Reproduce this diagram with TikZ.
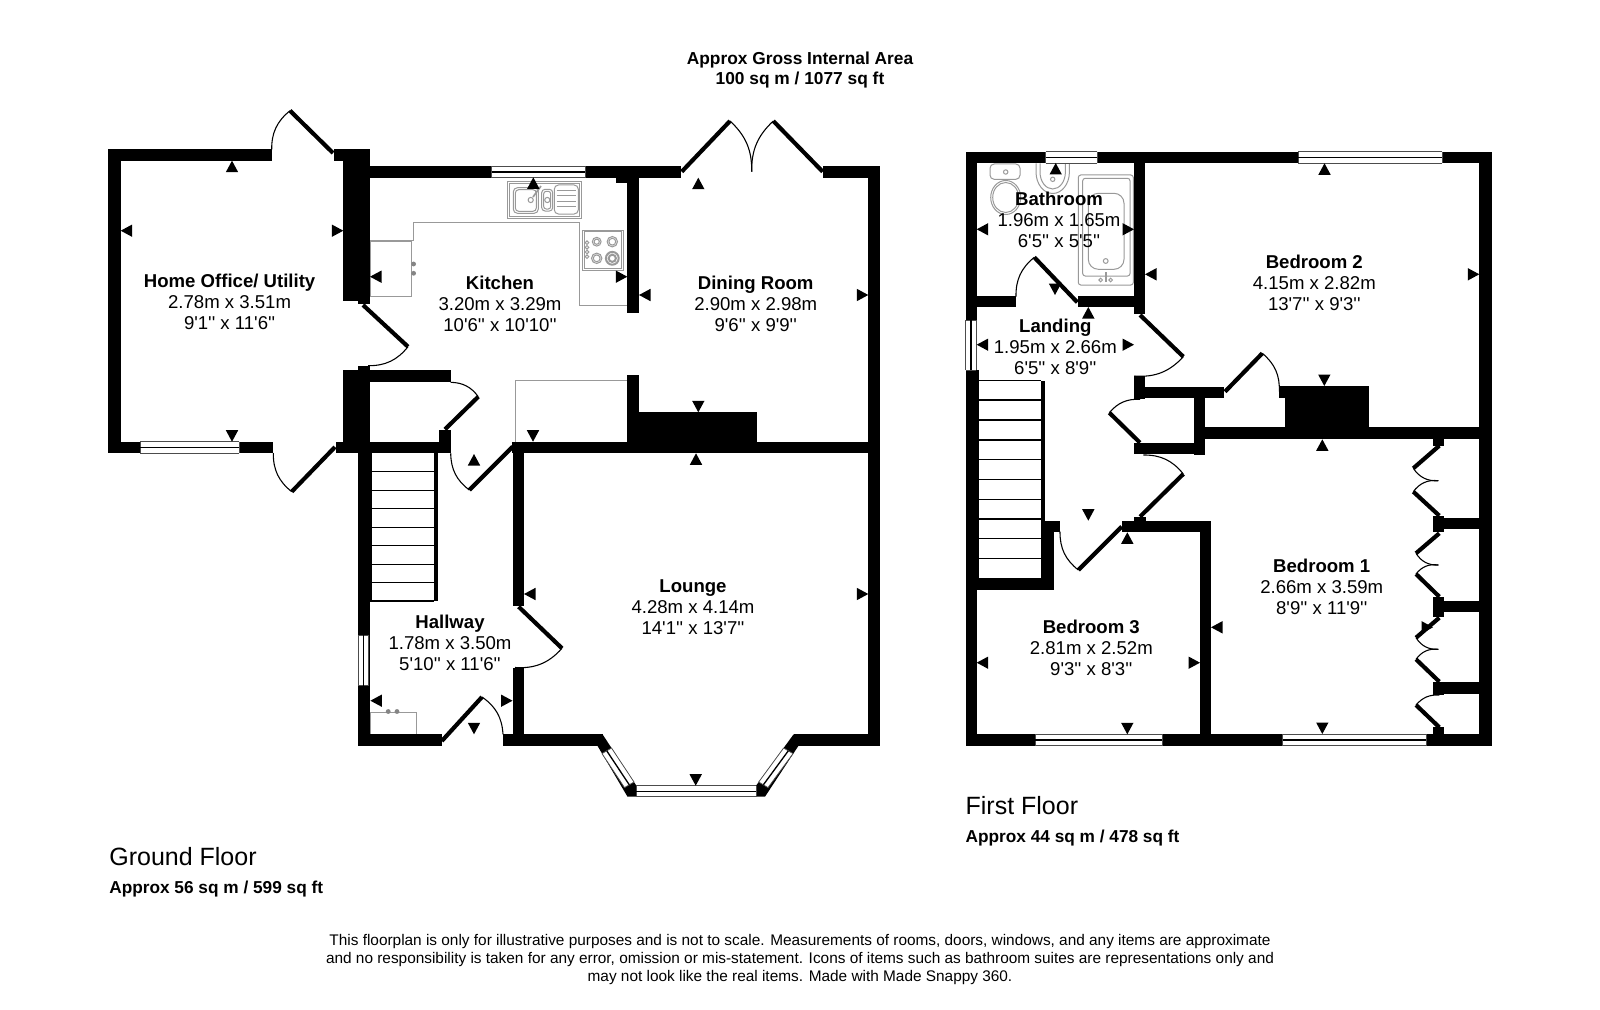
\documentclass[tikz,border=0pt]{standalone}
\usepackage{fontspec}
\setmainfont{Liberation Sans}[Ligatures=TeXOff]
\usetikzlibrary{calc}
\definecolor{fixt}{HTML}{999999}
\definecolor{knob}{HTML}{858585}
\tikzset{
  wall/.style={fill=black,draw=none},
  leaf/.style={draw=black,line width=2.5pt},
  swing/.style={draw=black,line width=0.65pt},
  tread/.style={draw=black,line width=0.7pt},
  fix/.style={draw=fixt,line width=0.6pt},
  room/.style={align=center,inner sep=0pt,font=\fontsize{11.15}{12.6}\selectfont},
  captxt/.style={align=center,inner sep=0pt,font=\fontsize{10.4}{12}\bfseries\selectfont},
  floorname/.style={anchor=west,inner sep=0pt,font=\fontsize{15}{17}\selectfont},
  floorarea/.style={anchor=west,inner sep=0pt,font=\fontsize{10.35}{12}\bfseries\selectfont},
  foot/.style={align=center,inner sep=0pt,font=\fontsize{9.23}{11}\selectfont}
}
\newcommand{\wl}[4]{\fill[wall] (#1,#2) rectangle (#3,#4);}
\newcommand{\qwin}[4]{% A B C D : long sides A-B and D-C
  \fill[white] #1 -- #2 -- #3 -- #4 -- cycle;
  \draw[black!70,line width=0.45pt] #1 -- #2 #3 -- #4;
  \draw[black!70,line width=0.45pt] #2 -- #3 #4 -- #1;
  \draw[black,line width=0.8pt] ($#1!.5!#4$) -- ($#2!.5!#3$);}
\newcommand{\hwin}[4]{\qwin{(#1,#2)}{(#3,#2)}{(#3,#4)}{(#1,#4)}}
\newcommand{\vwin}[4]{\qwin{(#1,#2)}{(#1,#4)}{(#3,#4)}{(#3,#2)}}
\newcommand{\tup}[2]{\fill (#1,#2) -- ++(6.2,11.5) -- ++(-12.4,0) -- cycle;}
\newcommand{\tdn}[2]{\fill (#1,#2) -- ++(6.2,-11.5) -- ++(-12.4,0) -- cycle;}
\newcommand{\tlf}[2]{\fill (#1,#2) -- ++(11.5,6.2) -- ++(0,-12.4) -- cycle;}
\newcommand{\trt}[2]{\fill (#1,#2) -- ++(-11.5,6.2) -- ++(0,-12.4) -- cycle;}
\begin{document}
\begin{tikzpicture}[x=0.6pt,y=-0.6pt]
\fill[white] (0,0) rectangle (1600,1010);
\useasboundingbox (0,0) rectangle (1600,1010);

%% ---------- GROUND FLOOR fixtures
% kitchen worktop
\draw[fix] (370,240.7) -- (413.5,240.7) -- (413.5,222.3) -- (579.3,222.3) -- (579.3,305) -- (627.3,305);
\draw[fix] (370,241.7) rectangle (411.7,296);
\fill[knob] (413.6,264) circle (2.4) (413.6,273.3) circle (2.4);
\draw[fix] (515.3,441.7) -- (515.3,380.7) -- (627.3,380.7);
% sink
\draw[fix,fill=white] (507.3,181.7) rectangle (581.7,218.3);
\draw[fix] (509.3,183.7) rectangle (579.7,216.3);
\draw[fix,rounded corners=2.5pt] (513.3,187.7) rectangle (538.3,213.3);
\draw[fix,rounded corners=2pt] (515.3,189.7) rectangle (536.3,211.3);
\draw[fix,rounded corners=2pt] (541.7,189.3) rectangle (552.7,211);
\draw[fix,rounded corners=1.5pt] (543.7,191.3) rectangle (550.7,209);
\draw[fix,rounded corners=2.5pt] (554.3,185) rectangle (578.3,214);
\foreach \yy in {190.5,196,201.5,207}{\draw[fix] (556.5,\yy) -- (576,\yy);}
\draw[fix] (530.7,200) circle (2.6) (547.3,200) circle (2.6);
\draw[fix,line width=1pt] (533,197) -- (541,186);
% hob
\draw[fix,fill=white] (582.7,230) rectangle (623.3,270);
\draw[fix] (584.4,231.7) rectangle (621.6,268.3);
\draw[fix] (596.7,241.7) circle (4.4) (596.7,241.7) circle (2.6);
\draw[fix] (612.3,241.7) circle (5.2) (612.3,241.7) circle (3.4);
\draw[fix] (596.7,258.3) circle (5.2) (596.7,258.3) circle (3.4);
\draw[fix,line width=1.2pt] (612.3,258.3) circle (6.4) (612.3,258.3) circle (3.6);
\foreach \yy in {242.7,247.3,252,256.7}{\draw[fix] (587,\yy) circle (1.8);}
% hallway unit
\draw[fix] (370.4,712.7) rectangle (416,734.3);
\fill[knob] (388.2,711.5) circle (2.4) (397,711.5) circle (2.4);

%% ---------- GROUND FLOOR walls
\wl{108.3}{148.7}{120.7}{453.3}
\wl{108.3}{148.7}{271.7}{160.7}
\wl{333.7}{148.7}{370}{160.7}
\wl{343.3}{148.7}{370}{301.3}
\wl{358.3}{301}{370}{304}
\wl{370}{166}{681}{177.7}
\wl{615.7}{177}{639}{182.7}
\wl{627.3}{177}{639}{312.7}
\wl{343.3}{370.3}{370}{453.3}
\wl{358.3}{365.7}{370}{371}
\wl{370}{370.3}{450.7}{382.3}
\wl{439}{430}{450.7}{453.3}
\wl{335.7}{441.7}{450.7}{453.3}
\wl{108.3}{441.7}{273.3}{453.3}
\wl{822.7}{166}{880}{177.7}
\wl{868.3}{166}{880}{745.7}
\wl{627.3}{375}{639}{442}
\wl{627.3}{412.3}{756.7}{442}
\wl{512.3}{441.7}{880}{453.3}
\wl{512.5}{441.7}{524}{605.7}
\wl{512.5}{667.7}{524}{745.7}
\wl{357.9}{453}{372}{601}
\wl{357.9}{601}{370.4}{745.7}
\wl{433.6}{453}{437.5}{601}
\wl{357.9}{734.3}{441.8}{745.7}
\wl{503}{734.3}{602.5}{745.7}
\wl{793.6}{734.3}{880}{745.7}
\fill[wall] (597,745) -- (602.5,734.3) -- (636.4,785.7) -- (756,785.7) -- (793.6,734.3) -- (799,745) -- (765,796.7) -- (627.5,796.7) -- cycle;
% stairs
\foreach \yy in {471.7,490.3,508.7,527.3,545.7,564.3,582.7,601}{\draw[tread] (370,\yy) -- (434,\yy);}
% windows
\hwin{140}{441.7}{239}{453.3}
\hwin{491.7}{166}{585}{177.7}
\vwin{358.6}{635}{368.6}{685.7}
\hwin{636.4}{785.7}{756}{796.7}
\qwin{(611.5,748)}{(634,782)}{(624.5,787.6)}{(602,753.6)}
\qwin{(783.6,748)}{(758.7,782)}{(768,787.6)}{(793,753.6)}
% doors
\draw[leaf] (290,110.7) -- (333,153);
\draw[swing] (271.7,150) to[bend left=26] (290,110.7);
\draw[leaf] (291.7,491.7) -- (335,447);
\draw[swing] (273.3,453) to[bend right=26] (291.7,491.7);
\draw[leaf] (363,305) -- (408,346.7);
\draw[swing] (408,346.7) to[bend left=26] (368,365.7);
\draw[leaf] (478.3,396.7) -- (445,429.3);
\draw[swing] (450.7,382.3) to[bend left=26] (478.3,396.7);
\draw[leaf] (469.3,490) -- (512.7,446.7);
\draw[swing] (450.7,453.3) to[bend right=26] (469.3,490);
\draw[leaf] (441.8,741) -- (482,697);
\draw[swing] (482,697) to[bend left=26] (503,734.3);
\draw[leaf] (518.6,606.7) -- (562,648.3);
\draw[swing] (562,648.3) to[bend left=26] (515,667.5);
\draw[leaf] (681.7,171.7) -- (730,121);
\draw[leaf] (773.3,121) -- (822.7,171.7);
\draw[swing] (730,121) to[bend left=24] (751.7,171.7);
\draw[swing] (773.3,121) to[bend right=24] (751.7,171.7);

% markers
\tup{232}{160.7} \tlf{120.7}{230.7} \trt{343.3}{230.7} \tdn{232}{441.7}
\tlf{370}{276.7} \tup{533.3}{177.3} \trt{627.3}{276.7} \tdn{533}{441.7}
\tup{698.3}{177.7} \tlf{639}{295} \trt{868.3}{295} \tdn{698.3}{412.3}
\tup{696}{453.3} \tlf{524}{594} \trt{868.3}{594} \tdn{695.7}{785.7}
\tup{474}{454} \tlf{370.4}{700.7} \trt{512.5}{700.7} \tdn{474}{734.3}

%% ---------- FIRST FLOOR fixtures
% toilet
\draw[fix,rounded corners=2.5pt] (990,164) rectangle (1020,179.3);
\draw[fix] (1005.7,172) circle (2.2);
\draw[fix] (1005.7,197.5) ellipse (15 and 17);
\draw[fix] (1005.7,197.5) ellipse (13 and 15);
% basin
\draw[fix] (1036,163.3) -- (1036,172) arc (180:0:16.7 and 21.5) -- (1069.3,163.3);
\draw[fix] (1040,163.3) -- (1040,172) arc (180:0:12.7 and 17) -- (1065.3,163.3);
\draw[fix] (1052.7,179.3) circle (2.2);
% bath
\draw[fix,rounded corners=1.5pt] (1078.3,175) rectangle (1133.3,285);
\draw[fix,rounded corners=1.5pt] (1082.7,178.3) rectangle (1130,276);
\draw[fix,rounded corners=6pt] (1088.3,193.3) rectangle (1124,269.3);
\draw[fix] (1105.7,261) circle (2.4);
\draw[fix,line width=1pt] (1105.7,272.3) -- (1105.7,281.7);
\draw[fix] (1100.7,280) circle (1.8) (1110.7,280) circle (1.8);

%% ---------- FIRST FLOOR walls
\wl{965.7}{151.7}{1491.7}{163.3}
\wl{965.7}{151.7}{977}{370}
\wl{965.7}{370}{979.3}{590}
\wl{965.7}{590}{977}{745.7}
\wl{965.7}{734.3}{1491.7}{745.7}
\wl{1479.3}{151.7}{1491.7}{745.7}
\wl{1134}{163}{1145.3}{314.3}
\wl{977}{295.7}{1015.7}{306.7}
\wl{1078.3}{295.7}{1134}{306.7}
\wl{1134.3}{376}{1145.3}{399.3}
\wl{1145}{386.7}{1224.3}{398.3}
\wl{1194.3}{398}{1205}{455}
\wl{1134.3}{443.3}{1205}{454.3}
\wl{1040.7}{380.7}{1045}{521}
\wl{1040.7}{521}{1054.3}{590}
\wl{1045}{521}{1060}{532.3}
\wl{965.7}{577.7}{1054.3}{590}
\wl{1122.3}{521}{1211}{532.3}
\wl{1134.3}{516.7}{1145.7}{522}
\wl{1200}{521}{1211}{745.7}
\wl{1194.3}{427.3}{1479.3}{439.3}
\wl{1279.3}{386}{1369}{398.3}
\wl{1285}{386}{1369}{428}
\wl{1433.3}{439}{1444.3}{445.7}
\wl{1433.3}{515.7}{1444.3}{532.3}
\wl{1444}{517.7}{1479.5}{529}
\wl{1433.3}{596.7}{1444.3}{616.7}
\wl{1444}{600.7}{1479.5}{612.3}
\wl{1433.3}{681.7}{1444.3}{695}
\wl{1444}{682.3}{1479.5}{694}
\wl{1433.3}{727.3}{1444.3}{735}
% stairs
\foreach \yy in {380.7,400,420,440,459.3,479.3,499.3,519,538.3,558.3}{\draw[tread] (979,\yy) -- (1041,\yy);}
% windows
\hwin{1045.7}{151.7}{1097.3}{163.3}
\hwin{1298}{151.7}{1442}{163.3}
\vwin{965.7}{320}{976.3}{370}
\hwin{1035}{734.3}{1162}{745.7}
\hwin{1282.7}{734.3}{1426}{745.7}
% doors
\draw[leaf] (1077.3,302.3) -- (1034.3,257.3);
\draw[swing] (1034.3,257.3) to[bend right=26] (1016,296.7);
\draw[leaf] (1140,315) -- (1183.3,356.7);
\draw[swing] (1183.3,356.7) to[bend left=26] (1134.3,376);
\draw[leaf] (1109.3,412.7) -- (1140,442.7);
\draw[swing] (1109.3,412.7) to[bend left=26] (1140,399.3);
\draw[leaf] (1183.3,474) -- (1140,516.7);
\draw[swing] (1143.3,455) to[bend left=26] (1183.3,474);
\draw[leaf] (1078.3,570) -- (1121.7,526.7);
\draw[swing] (1078.3,570) to[bend left=26] (1060,531.7);
\draw[leaf] (1225,391.7) -- (1262.3,353.3);
\draw[swing] (1262.3,353.3) to[bend left=26] (1279.3,391.7);
% wardrobe doors
\draw[leaf] (1439.3,445.7) -- (1413.3,468.3);
\draw[leaf] (1439.3,515.7) -- (1413.3,491.7);
\draw[swing] (1413.3,468.3) to[bend right=30] (1438.3,480.7);
\draw[swing] (1413.3,491.7) to[bend left=30] (1438.3,480.7);
\draw[leaf] (1439.3,533.3) -- (1416,553.3);
\draw[leaf] (1439.3,596.7) -- (1416,574);
\draw[swing] (1416,553.3) to[bend right=30] (1438.3,565);
\draw[swing] (1416,574) to[bend left=30] (1438.3,565);
\draw[leaf] (1439.3,617.7) -- (1416,637.7);
\draw[leaf] (1439.3,681.7) -- (1416,659.3);
\draw[swing] (1416,637.7) to[bend right=30] (1438.3,649.3);
\draw[swing] (1416,659.3) to[bend left=30] (1438.3,649.3);
\draw[leaf] (1439.3,727.3) -- (1416,705);
\draw[swing] (1416,705) to[bend left=26] (1439.3,695);

% markers
\tup{1055.7}{163} \tlf{976.7}{229.3} \trt{1134}{229.3} \tdn{1055}{295}
\tup{1088.3}{307} \tlf{976.7}{344.7} \trt{1134}{344.7} \tdn{1088.3}{520.7}
\tup{1127.3}{532.3} \tlf{976.7}{662.7} \trt{1200}{662.7} \tdn{1127.3}{734.3}
\tup{1324.5}{163.3} \tlf{1145}{274.3} \trt{1479.3}{274.3} \tdn{1324.3}{386}
\tup{1322.3}{439.3} \tlf{1211}{627.3} \trt{1433}{627.3} \tdn{1322.3}{734}

%% ---------- TEXT
\node[captxt] (title) at (800,70) {Approx Gross Internal Area\\100 sq m / 1077 sq ft};
\node[room] (office) at (229.6,301.7) {\textbf{Home Office/ Utility}\\2.78m x 3.51m\\9'1'' x 11'6''};
\node[room] (kitchen) at (500,303.5) {\textbf{Kitchen}\\3.20m x 3.29m\\10'6'' x 10'10''};
\node[room] (dining) at (755.7,304.3) {\textbf{Dining Room}\\2.90m x 2.98m\\9'6'' x 9'9''};
\node[room] (lounge) at (693,607.3) {\textbf{Lounge}\\4.28m x 4.14m\\14'1'' x 13'7''};
\node[room] (hallway) at (450,643.3) {\textbf{Hallway}\\1.78m x 3.50m\\5'10'' x 11'6''};
\node[room] (bathroom) at (1059,220) {\textbf{Bathroom}\\1.96m x 1.65m\\6'5'' x 5'5''};
\node[room] (landing) at (1055.3,346.7) {\textbf{Landing}\\1.95m x 2.66m\\6'5'' x 8'9''};
\node[room] (bed2) at (1314.3,282.7) {\textbf{Bedroom 2}\\4.15m x 2.82m\\13'7'' x 9'3''};
\node[room] (bed3) at (1091.3,648.3) {\textbf{Bedroom 3}\\2.81m x 2.52m\\9'3'' x 8'3''};
\node[room] (bed1) at (1321.7,587) {\textbf{Bedroom 1}\\2.66m x 3.59m\\8'9'' x 11'9''};
\node[floorname] (gf) at (109,857) {Ground Floor};
\node[floorarea] (gfa) at (109,888.7) {Approx 56 sq m / 599 sq ft};
\node[floorname] (ff) at (965.3,806) {First Floor};
\node[floorarea] (ffa) at (965.3,837.7) {Approx 44 sq m / 478 sq ft};
\node[foot] (disc) at (800,959.5) {This floorplan is only for illustrative purposes and is not to scale. Measurements of rooms, doors, windows, and any items are approximate\\and no responsibility is taken for any error, omission or mis-statement. Icons of items such as bathroom suites are representations only and\\may not look like the real items. Made with Made Snappy 360.};
\end{tikzpicture}
\end{document}
